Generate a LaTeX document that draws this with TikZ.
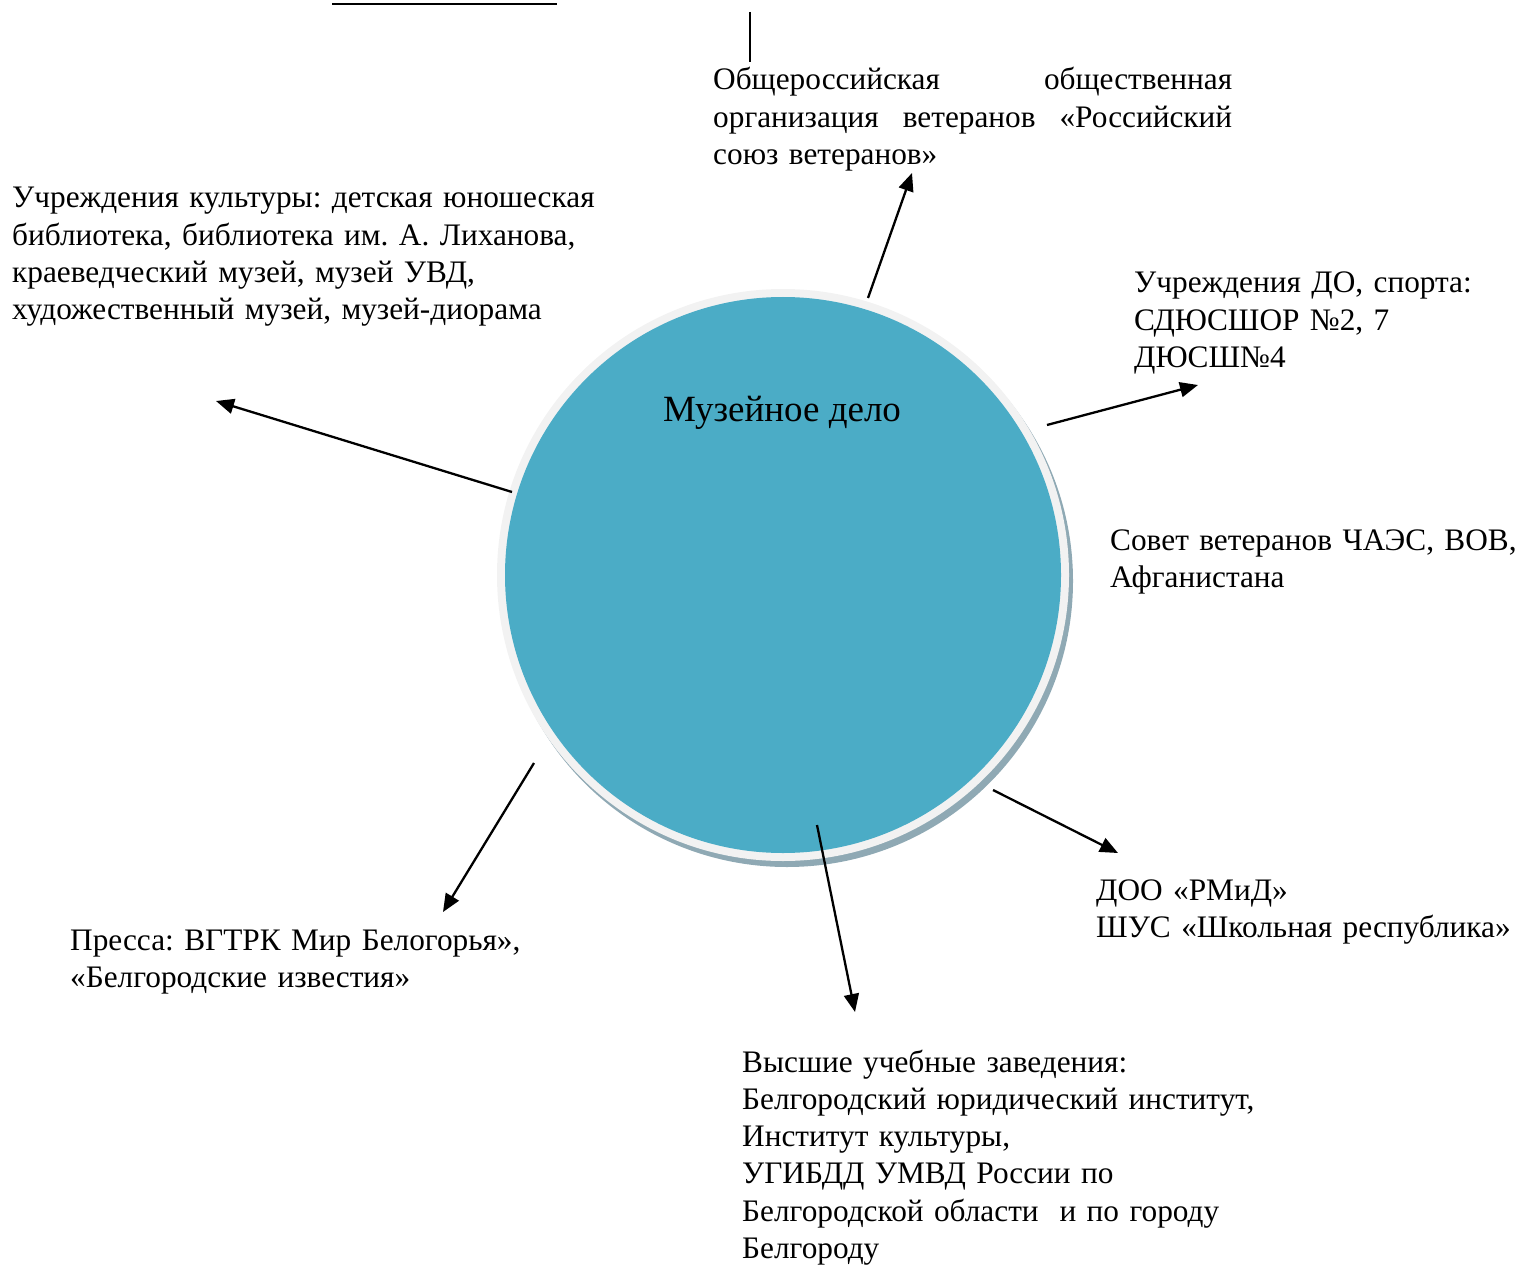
\documentclass[tikz,border=0pt]{standalone}
\usepackage{fontspec}
\setmainfont{Liberation Serif}
\usetikzlibrary{arrows.meta}
\definecolor{museumblue}{HTML}{4BACC6}
\definecolor{ringgray}{HTML}{F2F2F2}
\definecolor{shadowgray}{HTML}{8FA9B4}
\tikzset{
  partner/.style={anchor=base west, inner sep=0pt, align=left, text width=620pt,
    font=\fontsize{31.3}{37.3}\selectfont\frenchspacing},
  link/.style={-{Triangle[length=18pt,width=15pt]}, line width=2.3pt}
}
\begin{document}
\begin{tikzpicture}[x=1pt,y=-1pt]
    \useasboundingbox (0,0) rectangle (1515,1265);

    % Cut-off lines at the top
    \draw[line width=2pt] (332,4) -- (557,4);
    \draw[line width=2pt] (750,12) -- (750,62);

    % Central circle
    \fill[shadowgray] (787,581) circle[radius=286pt];
    \fill[ringgray] (783,575) circle[radius=286pt];
    \node[circle, fill=museumblue, minimum size=556pt, inner sep=0pt] (museum) at (783,575) {};
    \node[font=\fontsize{37}{44}\selectfont, anchor=base, inner sep=0pt] (museumtitle) at (782,421) {Музейное дело};

    % Partners
    \node[partner, text width=519pt] (veterans) at (713,90) {Общероссийская\hfill общественная\\организация\hfill ветеранов\hfill «Российский\hspace*{6pt}\\союз ветеранов»};
    \node[partner] (culture) at (12,208) {Учреждения культуры: детская юношеская\\библиотека, библиотека им. А. Лиханова,\\краеведческий музей, музей УВД,\\художественный музей, музей-диорама};
    \node[partner] (sport) at (1134,293) {Учреждения ДО, спорта:\\СДЮСШОР №2, 7\\ДЮСШ№4};
    \node[partner] (council) at (1110,550) {Совет ветеранов ЧАЭС, ВОВ,\\Афганистана};
    \node[partner] (youth) at (1096,900) {ДОО «РМиД»\\ШУС «Школьная республика»};
    \node[partner] (press) at (70,950) {Пресса: ВГТРК Мир Белогорья»,\\«Белгородские известия»};
    \node[partner] (higher) at (742,1072) {Высшие учебные заведения:\\Белгородский юридический институт,\\Институт культуры,\\УГИБДД УМВД России по\\Белгородской области\ \ и по городу\\Белгороду};

    % Arrow ends
    \coordinate (vetfrom) at (868,298);    \coordinate (vetto) at (912,173);
    \coordinate (sportfrom) at (1047,425); \coordinate (sportto) at (1198,385);
    \coordinate (culturefrom) at (512,492); \coordinate (cultureto) at (216,401);
    \coordinate (pressfrom) at (534,763);  \coordinate (pressto) at (443,912);
    \coordinate (higherfrom) at (817,825); \coordinate (higherto) at (855,1012);
    \coordinate (youthfrom) at (993,790);  \coordinate (youthto) at (1118,853);

    % Arrows
    \draw[link] (vetfrom) -- (vetto);
    \draw[link] (sportfrom) -- (sportto);
    \draw[link] (culturefrom) -- (cultureto);
    \draw[link] (pressfrom) -- (pressto);
    \draw[link] (higherfrom) -- (higherto);
    \draw[link] (youthfrom) -- (youthto);
\end{tikzpicture}
\end{document}
